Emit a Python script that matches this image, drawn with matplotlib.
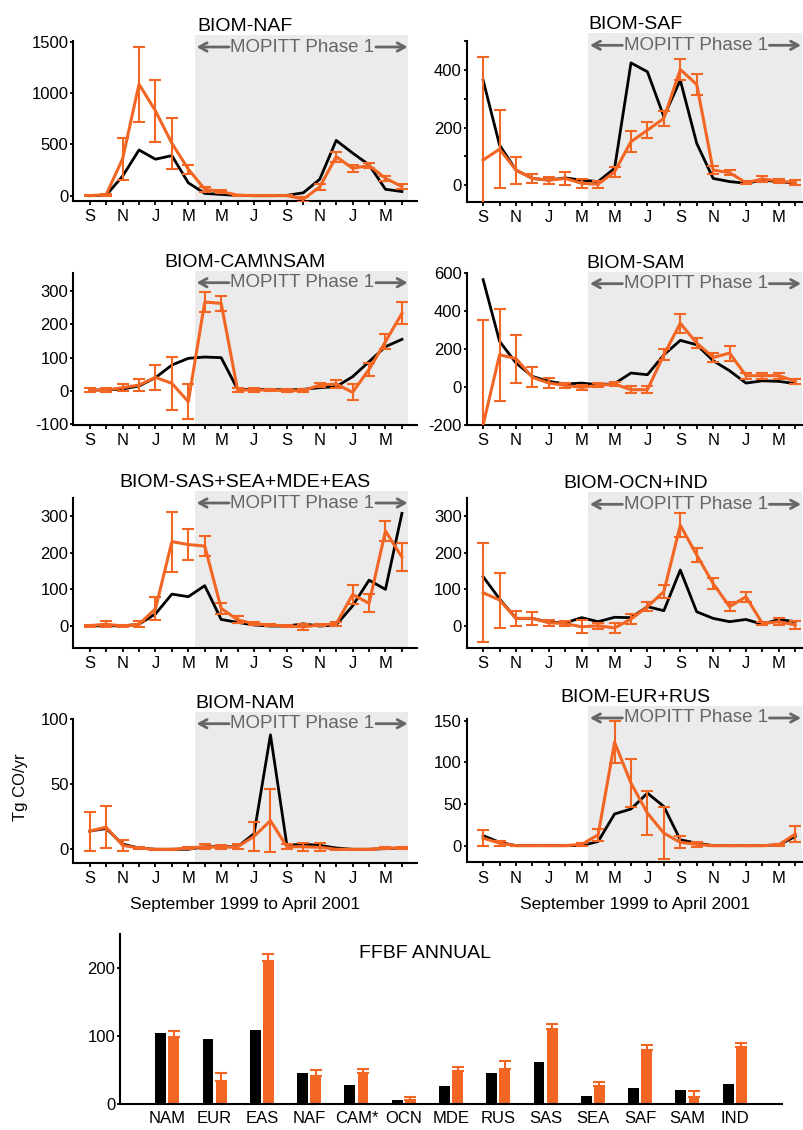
import numpy as np
import matplotlib
matplotlib.use("Agg")
import matplotlib.pyplot as plt

plt.rcParams['font.family'] = ['Liberation Sans', 'DejaVu Sans']
plt.rcParams['axes.unicode_minus'] = False

ORANGE = '#f26522'
SHADE = '#ebebeb'
GRAY = '#666666'

# months Sep 1999 .. Apr 2001, labels on every other month
month_labels = ['S', '', 'N', '', 'J', '', 'M', '', 'M', '', 'J', '', 'S', '', 'N', '', 'J', '', 'M', '']

naf_model = [0, 5, 190, 445, 355, 390, 125, 22, 12, 2, 0, 0, 3, 28, 160, 538, 415, 300, 62, 40]
naf_inv = [0, 10, 359, 1086, 826, 510, 258, 63, 40, 5, 0, 0, 0, -34, 85, 380, 266, 294, 169, 89]
naf_err = [5, 10, 206, 365, 300, 250, 45, 25, 18, 5, 3, 3, 3, 24, 30, 49, 33, 28, 26, 25]

saf_model = [365, 139, 52, 23, 17, 25, 17, 12, 58, 425, 394, 238, 365, 145, 23, 12, 6, 17, 12, 6]
saf_inv = [87, 125, 52, 23, 17, 23, 6, 3, 46, 151, 191, 232, 402, 350, 52, 43, 8, 21, 14, 8]
saf_err = [357, 137, 47, 16, 12, 22, 15, 12, 18, 36, 27, 27, 38, 35, 14, 8, 5, 10, 8, 8]

cam_model = [3, 3, 6, 15, 40, 78, 98, 102, 100, 5, 5, 5, 3, 5, 10, 13, 43, 88, 133, 155]
cam_inv = [3, 3, 10, 18, 41, 23, -32, 267, 263, 3, 3, 3, 1, 1, 18, 21, -4, 65, 148, 233]
cam_err = [5, 5, 10, 18, 37, 80, 52, 29, 22, 5, 5, 4, 4, 4, 7, 12, 24, 20, 22, 33]

sam_model = [566, 241, 127, 56, 30, 16, 21, 12, 18, 74, 65, 170, 246, 223, 139, 86, 21, 33, 30, 18]
sam_inv = [-199, 170, 150, 51, 21, 9, -2, 9, 16, -14, -14, 170, 336, 232, 156, 179, 60, 60, 60, 30]
sam_err = [555, 242, 126, 53, 26, 12, 15, 10, 10, 18, 18, 28, 50, 26, 22, 40, 15, 15, 15, 15]

sas_model = [0, 1, 0, 5, 33, 87, 80, 110, 18, 10, 3, 0, 0, 6, 0, 3, 55, 125, 100, 307]
sas_inv = [1, 5, 0, 5, 47, 230, 222, 218, 48, 17, 6, 3, 0, -2, 3, 6, 86, 62, 259, 188]
sas_err = [3, 8, 3, 8, 31, 82, 42, 27, 14, 10, 4, 3, 3, 8, 3, 6, 25, 25, 28, 37]

ocn_model = [135, 74, 21, 21, 10, 9, 23, 12, 24, 23, 53, 42, 153, 39, 21, 12, 18, 5, 18, 12]
ocn_inv = [91, 71, 21, 21, 9, 7, -2, 1, -5, 19, 53, 94, 275, 194, 116, 53, 80, 7, 12, 3]
ocn_err = [135, 75, 20, 18, 8, 8, 18, 8, 14, 13, 13, 17, 33, 19, 15, 12, 14, 5, 10, 10]

nam_model = [14, 16, 4, 1, 0, 0, 0, 2, 2, 2, 12, 88, 3, 4, 3, 1, 0, 0, 0.5, 1]
nam_inv = [14, 17, 3, 1, 0, 0, 1, 2, 1.5, 2, 10, 22, 2, 2, 1.5, 0, 0, 0, 1, 1]
nam_err = [15, 16, 4, 1, 0.5, 0.5, 1, 2, 1.5, 2, 11, 24, 2, 3, 3, 0.5, 0.5, 0.5, 1, 1]

eur_model = [12, 4, 0, 0, 0, 0, 0, 5, 38, 44, 63, 47, 7, 3, 0, 0, 0, 0, 1, 11]
eur_inv = [9, 3, 0, 0, 0, 0, 1.5, 13, 124, 75, 39, 15, 4, 1.5, 0, 0, 0, 0, 1, 14]
eur_err = [10, 3, 0, 0, 0, 0, 2, 7, 25, 29, 26, 31, 7, 3, 0, 0, 0, 0, 1, 10]

regions = ['NAM', 'EUR', 'EAS', 'NAF', 'CAM*', 'OCN', 'MDE', 'RUS', 'SAS', 'SEA', 'SAF', 'SAM', 'IND']
ffbf_model = [104, 96, 109, 46, 28, 6, 26, 46, 62, 12, 24, 20, 30]
ffbf_inv = [99, 34, 211, 41, 45, 6, 48, 51, 110, 26, 79, 10, 84]
ffbf_err = [8, 11, 10, 9, 7, 5, 7, 12, 7, 7, 8, 9, 6]

W, H = 804, 1130
fig = plt.figure(figsize=(W / 100, H / 100), dpi=100)


def axes_px(left, top, right, bottom):
    return fig.add_axes([left / W, 1 - bottom / H, (right - left) / W, (bottom - top) / H])


def style_axes(ax, ybot, spine_top):
    for s in ['top', 'right']:
        ax.spines[s].set_visible(False)
    for s in ['left', 'bottom']:
        ax.spines[s].set_linewidth(1.5)
    ax.spines['left'].set_bounds(ybot, spine_top)
    ax.tick_params(axis='y', length=2.5, width=1.3, pad=1, labelsize=12)
    ax.tick_params(axis='x', length=3, width=1.3, pad=3, labelsize=12)


def draw_panel(box, xmax, title, model, inv, err, ylim, spine_top, yticks, minor=None):
    ax = axes_px(*box)
    x = np.arange(len(model))
    ax.axvspan(6.4, 19.4, color=SHADE, lw=0, zorder=0)
    ax.plot(x, model, color='black', lw=2, zorder=3)
    ax.errorbar(x, inv, yerr=err, color=ORANGE, lw=2.2, elinewidth=1.5,
                capsize=4.5, capthick=1.5, zorder=4)
    ax.set_xlim(-1, xmax)
    ax.set_ylim(*ylim)
    ax.set_xticks(x)
    ax.set_xticklabels(month_labels)
    ax.set_yticks(yticks)
    if minor is not None:
        ax.set_yticks(minor, minor=True)
        ax.tick_params(axis='y', which='minor', length=2.5, width=1.3)
    style_axes(ax, ylim[0], spine_top)
    ax.set_title(title, fontsize=14, pad=3)

    # MOPITT Phase 1 label with arrows to the shaded range
    h_px = box[3] - box[1]
    yf = 1 - 12 / h_px
    tr = ax.get_xaxis_transform()
    t = ax.text(12.95, yf, 'MOPITT Phase 1', transform=tr, ha='center', va='center',
                fontsize=13.5, color=GRAY, zorder=5)
    arrow = dict(arrowstyle='->,head_length=0.55,head_width=0.3', color=GRAY, lw=2,
                 shrinkA=1, shrinkB=0)
    ax.annotate('', xy=(6.5, yf), xycoords=tr, xytext=(0, 0.5), textcoords=t, arrowprops=arrow)
    ax.annotate('', xy=(19.35, yf), xycoords=tr, xytext=(1, 0.5), textcoords=t, arrowprops=arrow)
    return ax


L = (73.3, 416.7)
R = (466.7, 804)
XL, XR = 19.9, 19.53

draw_panel((L[0], 35, L[1], 201), XL, 'BIOM-NAF', naf_model, naf_inv, naf_err,
           (-52, 1565), 1510, [0, 500, 1000, 1500])
draw_panel((R[0], 33.3, R[1], 201.7), XR, 'BIOM-SAF', saf_model, saf_inv, saf_err,
           (-58, 528), 500, [0, 200, 400], minor=[100, 300, 500])
draw_panel((L[0], 270.7, L[1], 425), XL, 'BIOM-CAM\\NSAM', cam_model, cam_inv, cam_err,
           (-102, 361), 353, [-100, 0, 100, 200, 300])
draw_panel((R[0], 271.7, R[1], 425), XR, 'BIOM-SAM', sam_model, sam_inv, sam_err,
           (-200, 608), 600, [-200, 0, 200, 400, 600])
draw_panel((L[0], 491, L[1], 647.7), XL, 'BIOM-SAS+SEA+MDE+EAS', sas_model, sas_inv, sas_err,
           (-59, 368), 348, [0, 100, 200, 300])
draw_panel((R[0], 492.3, R[1], 647.7), XR, 'BIOM-OCN+IND', ocn_model, ocn_inv, ocn_err,
           (-59, 365), 350, [0, 100, 200, 300])
ax_nam = draw_panel((L[0], 711.7, L[1], 862.7), XL, 'BIOM-NAM', nam_model, nam_inv, nam_err,
                    (-10.3, 105.8), 100, [0, 50, 100])
ax_eur = draw_panel((R[0], 706, R[1], 862.3), XR, 'BIOM-EUR+RUS', eur_model, eur_inv, eur_err,
                    (-20, 167.6), 152, [0, 50, 100, 150])

for ax in (ax_nam, ax_eur):
    ax.set_xlabel('September 1999 to April 2001', fontsize=12.5, labelpad=8)
ax_nam.set_ylabel('Tg CO/yr', fontsize=12, labelpad=9)

# annual fossil fuel + biofuel bar chart
axb = axes_px(120, 934, 782, 1104)
xb = np.arange(len(regions))
axb.bar(xb - 0.14, ffbf_model, width=0.23, color='black', zorder=2)
axb.bar(xb + 0.14, ffbf_inv, width=0.23, color=ORANGE, zorder=2)
axb.errorbar(xb + 0.14, ffbf_inv, yerr=[np.zeros(len(regions)), ffbf_err], fmt='none',
             ecolor=ORANGE, elinewidth=1.5, capsize=4.5, capthick=1.5, zorder=3)
axb.set_xlim(-1, 13)
axb.set_ylim(0, 250)
axb.set_xticks(xb)
axb.set_xticklabels(regions)
axb.set_yticks([0, 100, 200])
style_axes(axb, 0, 250)
axb.tick_params(axis='x', length=0, pad=5)
axb.text(5.45, 222, 'FFBF ANNUAL', ha='center', va='center', fontsize=14)

fig.savefig('out.png', dpi=100)
